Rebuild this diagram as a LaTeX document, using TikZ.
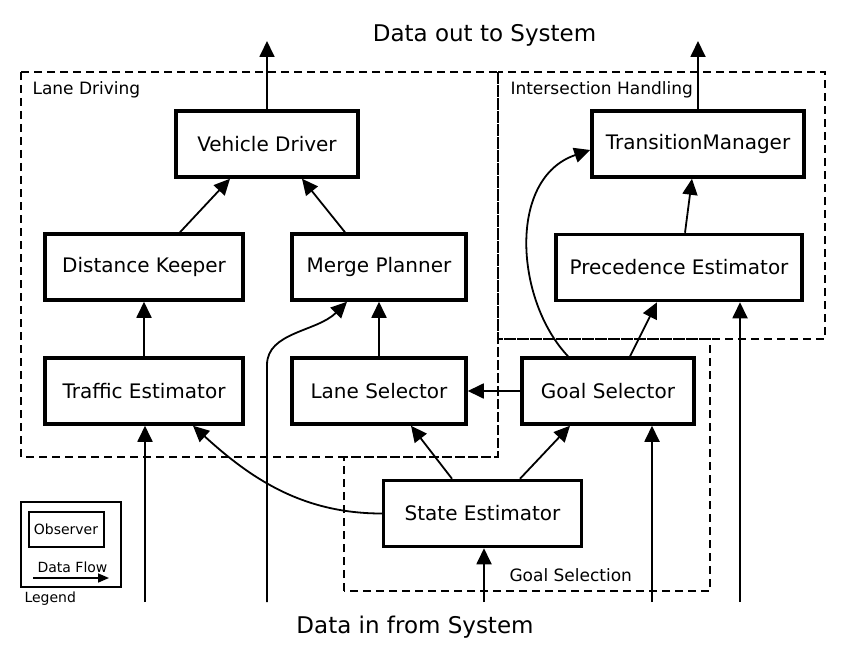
\documentclass[tikz,border=0pt]{standalone}
\usepackage{fontspec}
\setmainfont{DejaVu Sans}
\usetikzlibrary{arrows.meta,positioning}

\begin{document}
\begin{tikzpicture}[x=1pt,y=-1pt,
	beobachter/.style={draw,rectangle,line width=3.5pt,minimum height=66pt,font=\fontsize{20}{24}\selectfont},
	fluss/.style={line width=1.8pt,-{Triangle[length=16pt,width=15pt]}},
	bereich/.style={line width=1.8pt,dash pattern=on 8pt off 5pt},
	bereichsname/.style={anchor=base west,font=\fontsize{17}{20}\selectfont},
	systemtext/.style={anchor=base,font=\fontsize{23}{27}\selectfont},
	legende/.style={font=\fontsize{14}{17}\selectfont},
	node distance=124pt]
\useasboundingbox (0,0) rectangle (861,647);

%-------------------------------------------------------------------------------
% Lane Driving
%-------------------------------------------------------------------------------
\node (vd) [beobachter,minimum width=182pt] at (267,144) {Vehicle Driver};
\node (dk) [beobachter,minimum width=198pt] at (144,267) {Distance Keeper};
\node (mp) [beobachter,minimum width=174pt] at (379,267) {Merge Planner};
\node (te) [beobachter,minimum width=198pt,below of=dk] {Traffic Estimator};
\node (ls) [beobachter,minimum width=174pt,below of=mp] {Lane Selector};

\draw [fluss] ([xshift=36pt]dk.north) -- ([xshift=-37pt]vd.south);
\draw [fluss] ([xshift=-34pt]mp.north) -- ([xshift=35pt]vd.south);
\draw [fluss] (te) -- (dk);
\draw [fluss] (ls) -- (mp);

\draw [bereich] (21,72) rectangle (498,457);
\node (ldname) [bereichsname] at (29,95) {Lane Driving};

%-------------------------------------------------------------------------------
% Intersection Handling
%-------------------------------------------------------------------------------
\node (tm) [beobachter,minimum width=212pt] at (698,144) {TransitionManager};
\node (pe) [beobachter,minimum width=246pt] at (679,267.5) {Precedence Estimator};
\draw [fluss] ([xshift=6pt]pe.north) -- ([xshift=-6pt]tm.south);

\draw [bereich] (498,72) rectangle (825,339);
\node (ihname) [bereichsname] at (507,95) {Intersection Handling};

%-------------------------------------------------------------------------------
% Goal Selection
%-------------------------------------------------------------------------------
\node (gs) [beobachter,minimum width=172pt,right of=ls,node distance=229pt] {Goal Selector};
\node (se) [beobachter,minimum width=198pt] at (482.5,513.5) {State Estimator};

\draw [fluss] (gs) -- (ls);
\draw [fluss] ([xshift=-30.5pt]se.north) -- ([xshift=32pt]ls.south);
\draw [fluss] ([xshift=37.5pt]se.north) -- ([xshift=-38pt]gs.south);
\draw [fluss] ([xshift=22pt]gs.north) -- ([xshift=-22pt]pe.south);
\draw [fluss] (se.west) .. controls +(-80,0) and +(57,52) .. ([xshift=49pt]te.south);
\draw [fluss] ([xshift=-40pt]gs.north) .. controls +(-53,-56) and +(-83,28) .. ([yshift=-6pt]tm.west);

\draw [bereich] (344,591) -- (344,457) -- (498,457) -- (498,339) -- (710,339) -- (710,591) -- cycle;
\node (gsname) [bereichsname] at (506,581) {Goal Selection};

%-------------------------------------------------------------------------------
% System
%-------------------------------------------------------------------------------
\coordinate (vdaus) at (267,41);
\coordinate (tmaus) at (698,41);
\draw [fluss] (vd.north) -- (vdaus);
\draw [fluss] (tm.north) -- (tmaus);
\node (ausgabe) [systemtext] at (484.5,42) {Data out to System};

\coordinate (inte) at (145,602);
\coordinate (inmp) at (267,602);
\coordinate (inse) at (484,602);
\coordinate (ings) at (652,602);
\coordinate (inpe) at (740,602);
\draw [fluss] (inte) -- (inte |- te.south);
\draw [fluss] (inmp) -- ++(0,-237) .. controls +(0,-33) and +(-30,30) .. ([xshift=-32pt]mp.south);
\draw [fluss] (inse) -- (inse |- se.south);
\draw [fluss] (ings) -- (ings |- gs.south);
\draw [fluss] (inpe) -- (inpe |- pe.south);
\node (eingabe) [systemtext] at (415,633) {Data in from System};

%-------------------------------------------------------------------------------
% Legend
%-------------------------------------------------------------------------------
\draw [line width=2pt] (21,502) rectangle (121,587);
\node (obs) [draw,line width=2pt,minimum width=75pt,minimum height=35pt,legende] at (66,529) {Observer};
\node (dfname) [legende,anchor=base] at (72.5,572) {Data Flow};
\coordinate (dfanfang) at (33,578);
\coordinate (dfende) at (109,578);
\draw [line width=1.6pt,-{Triangle[length=11pt,width=9pt]}] (dfanfang) -- (dfende);
\node (legname) [legende,anchor=base west] at (21,602) {Legend};
\end{tikzpicture}
\end{document}
